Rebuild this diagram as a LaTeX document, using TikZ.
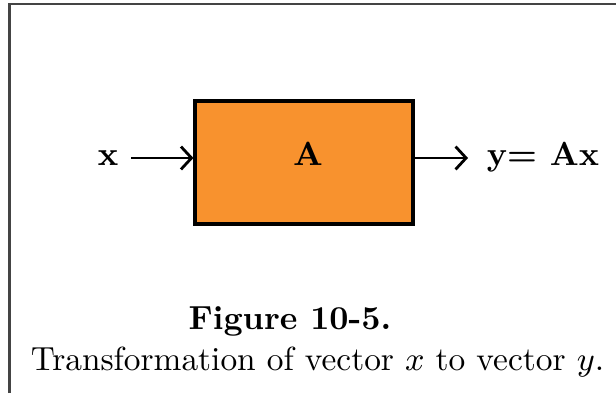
\RequirePackage{fix-cm}
\documentclass[tikz,border=0pt]{standalone}
\usepackage{amsmath,amssymb}
\usepackage{xcolor}
\usepackage{tikz}
\usetikzlibrary{arrows.meta,calc,positioning}
\definecolor{Ink}{HTML}{000000}
\definecolor{Frame}{HTML}{444444}
\definecolor{BlockFill}{HTML}{F8922E}

\begin{document}
\begin{tikzpicture}[x=1cm,y=1cm,>={Straight Barb[length=3pt,width=6.5pt,line width=0.8pt]},
    font=\fontsize{9.5pt}{11.5pt}\selectfont,
    blockbox/.style={draw=Ink,fill=BlockFill,line width=0.9pt,minimum width=2.18cm,minimum height=1.23cm,inner sep=0pt},
    sig/.style={Ink,anchor=base,inner sep=0pt},
    flow/.style={Ink,line width=0.45pt,->}]
  \useasboundingbox (0,0) rectangle (6.16,3.93);
  \draw[Frame,line width=0.6pt] (0.095,0) |- (6.16,3.89);
  \node[blockbox] (sys) at (3.04,2.305) {};
  \node[sig] (opA) at (3.08,2.27) {$\mathbf{A}$};
  \node[sig] (xin) at (1.08,2.27) {$\mathbf{x}$};
  \node[sig] (yout) at (5.43,2.27) {\textbf{y= Ax}};
  \coordinate (inTail) at (1.31,2.35);
  \coordinate (outTip) at (4.68,2.35);
  \draw[flow] (inTail) -- (inTail -| sys.west);
  \draw[flow] (outTip -| sys.east) -- (outTip);
  \node[sig] (figno) at (2.90,0.63) {\textbf{Figure 10-5.}};
  \node[sig] (caption) at (3.175,0.23) {Transformation of vector $x$ to vector $y$.};
\end{tikzpicture}
\end{document}
